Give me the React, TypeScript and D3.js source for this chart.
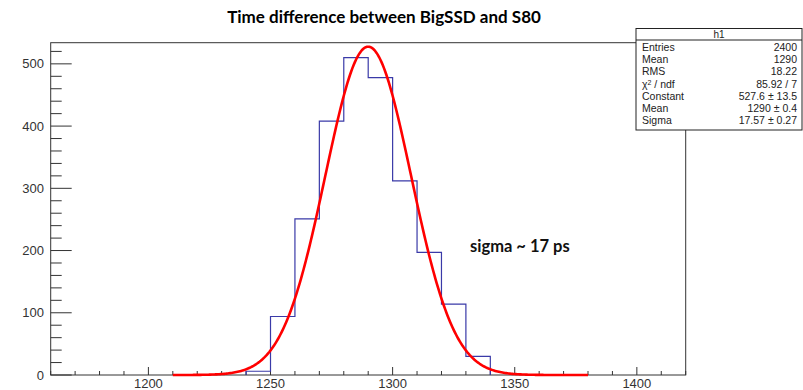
import React from "react";
import * as d3 from "d3";

const W = 803;
const H = 390;

// histogram bins (lower edge) and counts
const binEdges = [1240, 1250, 1260, 1270, 1280, 1290, 1300, 1310, 1320, 1330];
const binCounts = [6, 94, 251, 408, 510, 478, 312, 197, 114, 30];
const binWidth = 10;

// fit parameters (from stats box)
const fitConstant = 527.6;
const fitMean = 1290;
const fitSigma = 17.57;
const fitRange = [1210, 1380];

const xTicks = [1200, 1250, 1300, 1350, 1400];
const yTicks = [0, 100, 200, 300, 400, 500];

const statsLabels = ["Entries", "Mean", "RMS", "χ² / ndf", "Constant", "Mean", "Sigma"];
const statsValues = ["2400", "1290", "18.22", "85.92 / 7", "527.6 ± 13.5", "1290 ± 0.4", "17.57 ± 0.27"];

const margin = { left: 50.7, right: 685.7, top: 42.7, bottom: 375 };

export default function App() {
  const x = d3.scaleLinear().domain([1160, 1420]).range([margin.left, margin.right]);
  const y = d3.scaleLinear().domain([0, 534]).range([margin.bottom, margin.top]);

  // histogram step path
  let hp = "";
  binEdges.forEach((e, i) => {
    const x0 = x(e), x1 = x(e + binWidth), yy = y(binCounts[i]);
    if (i === 0) hp += `M${x0},${y(0)}L${x0},${yy}`;
    else hp += `L${x0},${yy}`;
    hp += `L${x1},${yy}`;
    if (i === binEdges.length - 1) hp += `L${x1},${y(0)}`;
  });

  const fitPts = d3.range(fitRange[0], fitRange[1] + 0.01, 0.5).map((v) => [
    v,
    fitConstant * Math.exp(-0.5 * ((v - fitMean) / fitSigma) ** 2),
  ]);
  const line = d3.line<number[]>().x((d) => x(d[0])).y((d) => y(d[1])).curve(d3.curveLinear);

  const xMinor = d3.range(1160, 1421, 10);
  const yMinor = d3.range(0, 534, 20);
  const axisColor = "#333";
  const font = "Liberation Sans, Arial, sans-serif";

  const boxX = 636, boxY = 28.5, boxW = 166, boxH = 101.5;

  return (
    <svg width={W} height={H} style={{ position: "absolute", left: 0, top: 0, background: "#fff" }}>
      <text x={384} y={23} textAnchor="middle" fontFamily="Lato, Open Sans, sans-serif" fontWeight="bold" fontSize={17} fill="#000">
        Time difference between BigSSD and S80
      </text>
      {/* frame */}
      <rect x={margin.left} y={margin.top} width={margin.right - margin.left} height={margin.bottom - margin.top} fill="none" stroke={axisColor} strokeWidth={1} />
      {/* y ticks */}
      {yMinor.map((v) => (
        <line key={"ym" + v} x1={margin.left} x2={margin.left + (v % 100 === 0 ? 21 : 11)} y1={y(v)} y2={y(v)} stroke={axisColor} strokeWidth={1} />
      ))}
      {yTicks.map((v) => (
        <text key={"yl" + v} x={44} y={y(v) + 4.5} textAnchor="end" fontFamily={font} fontSize={13} fill="#333">
          {v}
        </text>
      ))}
      {/* x ticks */}
      {xMinor.map((v) => (
        <line key={"xm" + v} x1={x(v)} x2={x(v)} y1={margin.bottom} y2={margin.bottom - (v % 50 === 0 ? 8 : 4)} stroke={axisColor} strokeWidth={1} />
      ))}
      {xTicks.map((v) => (
        <text key={"xl" + v} x={x(v)} y={388} textAnchor="middle" fontFamily={font} fontSize={13} fill="#333">
          {v}
        </text>
      ))}
      {/* histogram */}
      <path d={hp} fill="none" stroke="#3a3aa8" strokeWidth={1.2} />
      {/* fit */}
      <path d={line(fitPts) || ""} fill="none" stroke="#ff0000" strokeWidth={2.6} />
      {/* annotation */}
      <text x={470} y={252} fontFamily="Lato, Open Sans, sans-serif" fontWeight="bold" fontSize={16.5} fill="#111">
        sigma ~ 17 ps
      </text>
      {/* stats box */}
      <rect x={boxX} y={boxY} width={boxW} height={boxH} fill="#fff" stroke="#222" strokeWidth={1} />
      <line x1={boxX} x2={boxX + boxW} y1={40} y2={40} stroke="#222" strokeWidth={1} />
      <text x={boxX + boxW / 2} y={37.5} textAnchor="middle" fontFamily={font} fontSize={10} fill="#222">h1</text>
      {statsLabels.map((l, i) => (
        <text key={"sl" + i} x={boxX + 6} y={51 + i * 12.2} fontFamily={font} fontSize={10.5} fill="#222">
          {l === "χ² / ndf" ? (
            <>
              χ<tspan dy={-3} fontSize={7}>2</tspan>
              <tspan dy={3}> / ndf</tspan>
            </>
          ) : l}
        </text>
      ))}
      {statsValues.map((v, i) => (
        <text key={"sv" + i} x={boxX + boxW - 5} y={51 + i * 12.2} textAnchor="end" fontFamily={font} fontSize={10.5} fill="#222">
          {v}
        </text>
      ))}
    </svg>
  );
}
